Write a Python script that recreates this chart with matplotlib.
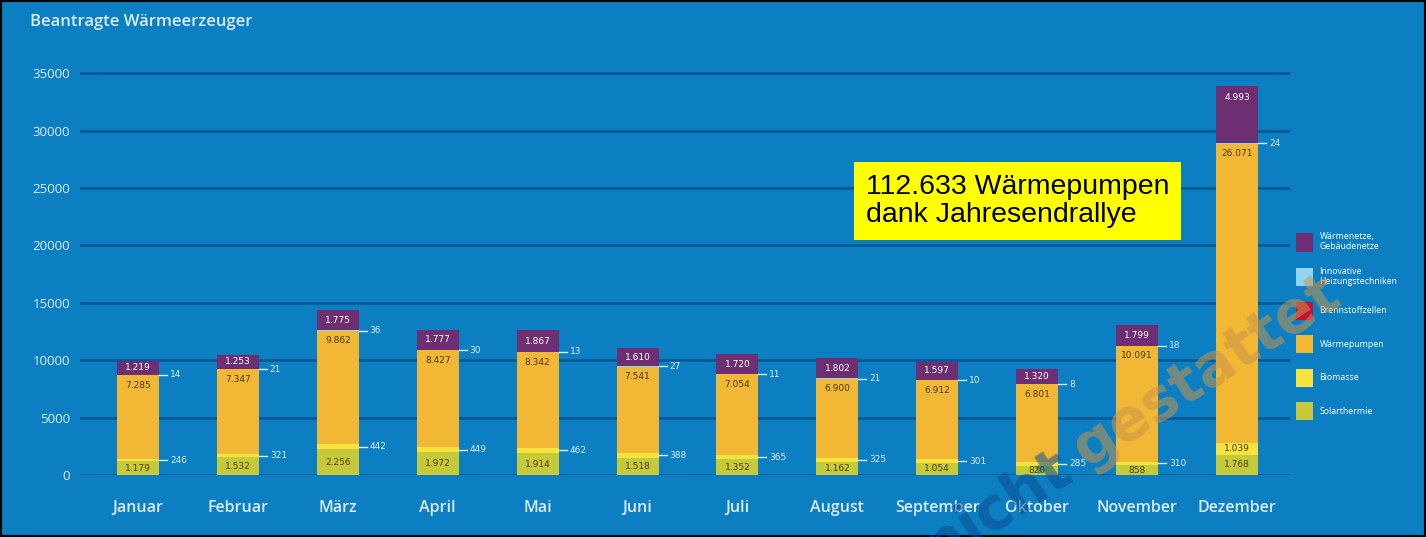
import numpy as np
import matplotlib.pyplot as plt
from matplotlib.patches import Rectangle

plt.rcParams['font.family'] = ['Open Sans', 'DejaVu Sans']

months = ['Januar', 'Februar', 'März', 'April', 'Mai', 'Juni', 'Juli',
          'August', 'September', 'Oktober', 'November', 'Dezember']

solarthermie = [1179, 1532, 2256, 1972, 1914, 1518, 1352, 1162, 1054, 820, 858, 1768]
biomasse = [246, 321, 442, 449, 462, 388, 365, 325, 301, 285, 310, 1039]
waermepumpen = [7285, 7347, 9862, 8427, 8342, 7541, 7054, 6900, 6912, 6801, 10091, 26071]
brennstoffzellen = [0] * 12
innovative = [14, 21, 36, 30, 13, 27, 11, 21, 10, 8, 18, 24]
waermenetze = [1219, 1253, 1775, 1777, 1867, 1610, 1720, 1802, 1597, 1320, 1799, 4993]

yticks = [0, 5000, 10000, 15000, 20000, 25000, 30000, 35000]

BG = '#0b7fc1'
GRID = '#0a5592'
LIGHT = '#dcecf6'


def fmt(v):
    # German thousands separator
    return f'{v:,}'.replace(',', '.')


fig = plt.figure(figsize=(14.26, 5.37), dpi=100)
fig.patch.set_facecolor(BG)
ax = fig.add_axes([80 / 1426, 1 - 475 / 537, 1210 / 1426, 407.5 / 537])
ax.set_facecolor(BG)

x = np.arange(len(months))
w = 0.42

series = [
    ('Solarthermie', solarthermie, '#c6c93a'),
    ('Biomasse', biomasse, '#f7e33c'),
    ('Wärmepumpen', waermepumpen, '#f2b735'),
    ('Brennstoffzellen', brennstoffzellen, '#c4123a'),
    ('Innovative\nHeizungstechniken', innovative, '#8fd4f2'),
    ('Wärmenetze,\nGebäudenetze', waermenetze, '#6e2f72'),
]

bottom = np.zeros(len(months))
handles = []
for name, vals, col in series:
    vals = np.array(vals, dtype=float)
    h = ax.bar(x, vals, w, bottom=bottom, color=col, edgecolor='none', zorder=3, label=name)
    handles.append(h)
    bottom = bottom + vals

lab = dict(fontsize=6.5, family='DejaVu Sans', zorder=5)
for i in x:
    # Solarthermie in the middle
    s = solarthermie[i]
    ax.text(i, s / 2, fmt(s), ha='center', va='center', color='#4a3f10', **lab)
    # Biomasse
    b0 = solarthermie[i]
    if biomasse[i] > 800:
        ax.text(i, b0 + biomasse[i] / 2, fmt(biomasse[i]), ha='center', va='center',
                color='#4a3f10', **lab)
    else:
        yb = b0 + biomasse[i] / 2
        ax.plot([i + w / 2, i + w / 2 + 0.08], [yb, yb], color=LIGHT, lw=1, zorder=4)
        ax.text(i + w / 2 + 0.11, yb, fmt(biomasse[i]), ha='left', va='center',
                color=LIGHT, **lab)
    # Wärmepumpen near top of the segment
    wtop = solarthermie[i] + biomasse[i] + waermepumpen[i]
    ax.annotate(fmt(waermepumpen[i]), (i, wtop), xytext=(0, -4), textcoords='offset points',
                ha='center', va='top', color='#4a3a10', **lab)
    # innovative small numbers
    yi = wtop + innovative[i] / 2
    ax.plot([i + w / 2, i + w / 2 + 0.08], [yi, yi], color=LIGHT, lw=1, zorder=4)
    ax.text(i + w / 2 + 0.11, yi, fmt(innovative[i]), ha='left', va='center',
            color=LIGHT, **lab)
    # Wärmenetze
    n0 = wtop + innovative[i]
    if waermenetze[i] > 3000:
        ax.annotate(fmt(waermenetze[i]), (i, n0 + waermenetze[i]), xytext=(0, -5),
                    textcoords='offset points', ha='center', va='top',
                    color='white', **lab)
    else:
        ax.text(i, n0 + waermenetze[i] / 2, fmt(waermenetze[i]), ha='center', va='center',
                color='white', **lab)

ax.set_xlim(-0.58, 11.53)
ax.set_ylim(0, 35500)
ax.set_yticks(yticks)
ax.set_yticklabels([str(t) for t in yticks], fontsize=9.5, color=LIGHT)
ax.set_xticks(x)
ax.set_xticklabels(months, fontsize=11.5, color=LIGHT, fontweight='semibold')
ax.tick_params(axis='both', length=0)
ax.tick_params(axis='x', pad=18)
ax.tick_params(axis='y', pad=7)
ax.grid(axis='y', color=GRID, lw=1.8, zorder=0)
for sp in ax.spines.values():
    sp.set_visible(False)

leg = ax.legend(handles[::-1], [s[0] for s in series][::-1], loc='upper left',
                bbox_to_anchor=(1288 / 1426, 1 - 224 / 537), bbox_transform=fig.transFigure,
                frameon=False, fontsize=6.3, labelcolor='white', handlelength=2.0,
                handleheight=2.8, labelspacing=1.75, handletextpad=0.7)

fig.text(30 / 1426, 1 - 22 / 537, 'Beantragte Wärmeerzeuger', fontsize=12, color=LIGHT,
         ha='left', va='center', fontweight='semibold')

fig.text(866 / 1426, 1 - 201 / 537, '112.633 Wärmepumpen\ndank Jahresendrallye',
         fontsize=20.5, family='Liberation Sans', color='black', ha='left', va='center',
         linespacing=1.1,
         bbox=dict(boxstyle='square,pad=0.42', facecolor='#ffff00', edgecolor='none'))

# watermark
fig.text(1075 / 1426, 1 - 477 / 537, 'nicht', fontsize=42, fontweight='bold',
         family='DejaVu Sans', color='#0a4e92', alpha=0.55, rotation=33,
         rotation_mode='anchor', ha='right', va='baseline')
fig.text(1087 / 1426, 1 - 469 / 537, 'gestattet', fontsize=42, fontweight='bold',
         family='DejaVu Sans', color='#c9954a', alpha=0.55, rotation=33,
         rotation_mode='anchor', ha='left', va='baseline')

fig.patches.append(Rectangle((0, 0), 1, 1, transform=fig.transFigure, fill=False,
                             edgecolor='black', lw=3))

fig.savefig('out.png', dpi=100, facecolor=fig.get_facecolor())
